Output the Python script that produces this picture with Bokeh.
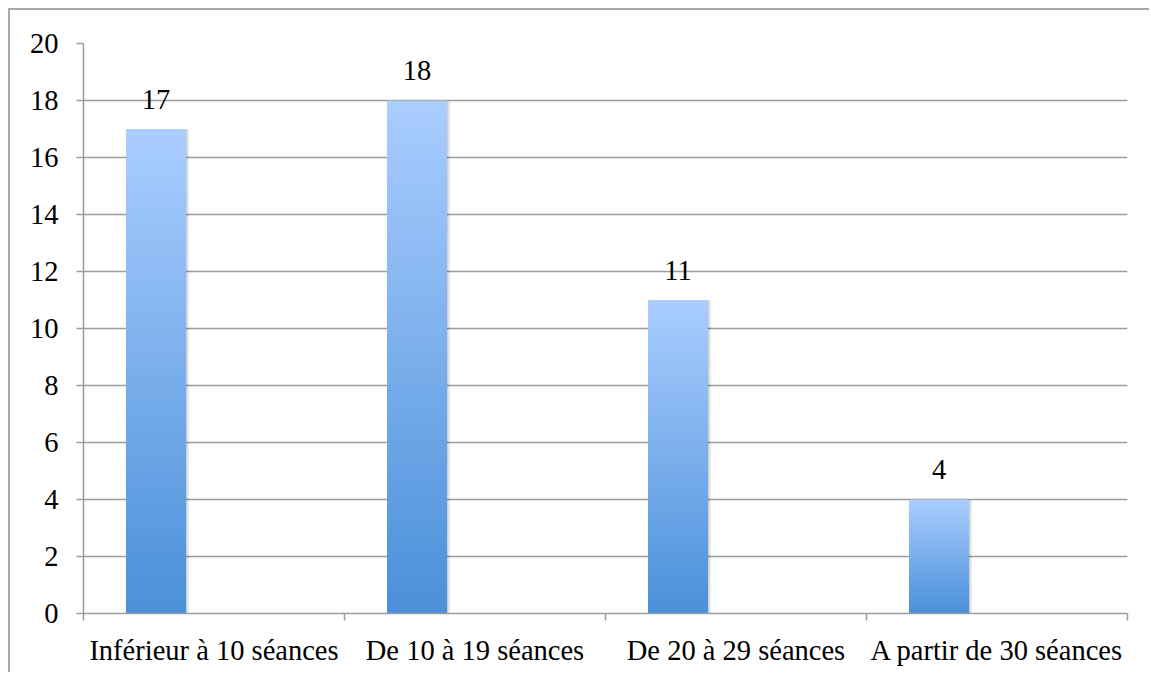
import numpy as np
from bokeh.plotting import figure
from bokeh.models import ColumnDataSource, FixedTicker, Range1d
from bokeh.embed import file_html
from bokeh.resources import INLINE
from bokeh.core.properties import value

# ---- data ----
categories = ["Inférieur à 10 séances", "De 10 à 19 séances",
              "De 20 à 29 séances", "A partir de 30 séances"]
counts = [17, 18, 11, 4]
y_ticks = [0, 2, 4, 6, 8, 10, 12, 14, 16, 18, 20]

# ---- style ----
FONT = "Liberation Serif"
FS = "28.5px"
GRAY = "#9c9c9c"
TOP_RGB = np.array([170, 205, 255])
BOT_RGB = np.array([74, 144, 217])
BAR_L, BAR_R = 0.165, 0.391
N = 80

p = figure(width=1141, height=664, x_range=Range1d(0, len(categories)),
           y_range=Range1d(0, 20), output_backend="svg", toolbar_location=None,
           min_border_left=73, min_border_right=24, min_border_top=33,
           min_border_bottom=61)
p.outline_line_color = None
p.styles = {"margin-left": "8px", "margin-top": "8px",
            "border-left": "2px solid #a8a8a8", "border-top": "2px solid #a8a8a8"}

# soft shadow behind the bars
for k, a in [(3, 0.05), (2, 0.07), (1, 0.09)]:
    dx = k / 261.0
    dy = k / 28.5
    p.quad(left=[i + BAR_L - dx * 0.3 for i in range(len(counts))],
           right=[i + BAR_R + dx * 1.3 for i in range(len(counts))],
           bottom=[-dy * 0.8] * len(counts),
           top=[v - dy * 0.2 for v in counts],
           fill_color="#000000", fill_alpha=a, line_color=None)

# gradient bars: nested slices drawn from tallest (lightest) to shortest (darkest)
lefts, rights, bottoms, tops, colors = [], [], [], [], []
for i, v in enumerate(counts):
    for k in range(N, 0, -1):
        t = (k - 0.5) / N
        c = BOT_RGB + (TOP_RGB - BOT_RGB) * t
        lefts.append(i + BAR_L)
        rights.append(i + BAR_R)
        bottoms.append(0)
        tops.append(v * k / N)
        colors.append("#%02x%02x%02x" % tuple(int(round(x)) for x in c))
src = ColumnDataSource(dict(left=lefts, right=rights, bottom=bottoms, top=tops, color=colors))
p.quad(left="left", right="right", bottom="bottom", top="top", fill_color="color",
       line_color=None, source=src)

# value labels
lab = ColumnDataSource(dict(x=[i + (BAR_L + BAR_R) / 2 for i in range(len(counts))],
                            y=counts, t=[str(v) for v in counts]))
p.text(x="x", y="y", text="t", source=lab, text_font=value(FONT), text_font_size=FS,
       text_align="center", text_baseline="alphabetic", y_offset=-30, text_color="black")

# axes
p.xgrid.visible = False
p.ygrid.grid_line_color = GRAY
p.ygrid.grid_line_width = 1.5

xa = p.xaxis[0]
xa.ticker = FixedTicker(ticks=[i + 0.5 for i in range(len(categories))],
                        minor_ticks=list(range(len(categories) + 1)))
xa.major_label_overrides = {i + 0.5: c for i, c in enumerate(categories)}
xa.major_tick_line_color = None
xa.minor_tick_line_color = GRAY
xa.minor_tick_line_width = 1.5
xa.minor_tick_in = 0
xa.minor_tick_out = 7
xa.axis_line_color = GRAY
xa.axis_line_width = 1.5
xa.major_label_text_font = FONT
xa.major_label_text_font_size = FS
xa.major_label_text_color = "black"
xa.major_label_standoff = 14

ya = p.yaxis[0]
ya.ticker = FixedTicker(ticks=y_ticks)
ya.major_tick_line_color = GRAY
ya.major_tick_line_width = 1.5
ya.major_tick_in = 0
ya.major_tick_out = 7
ya.minor_tick_line_color = None
ya.axis_line_color = GRAY
ya.axis_line_width = 1.5
ya.major_label_text_font = FONT
ya.major_label_text_font_size = FS
ya.major_label_text_color = "black"
ya.major_label_standoff = 18

open("out.html", "w").write(file_html(p, INLINE))
